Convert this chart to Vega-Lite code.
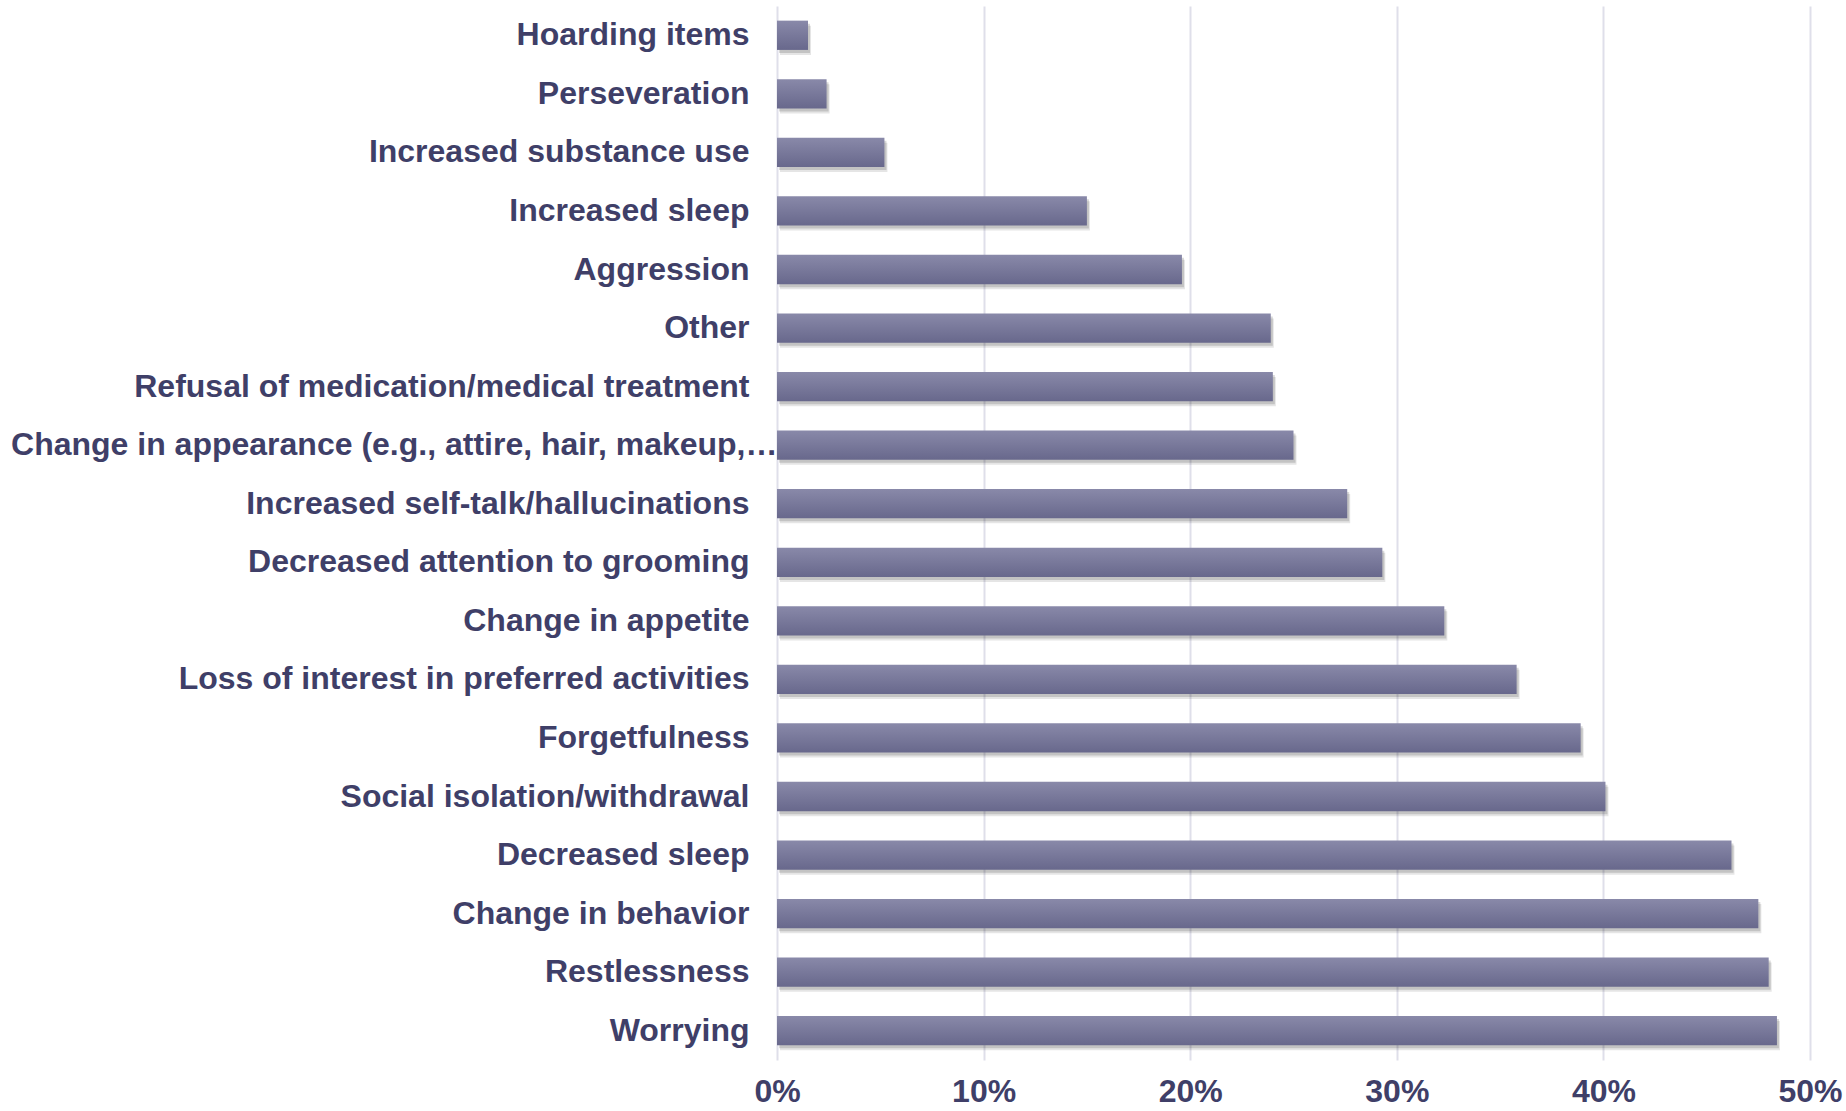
{
  "$schema": "https://vega.github.io/schema/vega-lite/v6.json",
  "width": 1033,
  "height": 1054,
  "autosize": {"type": "none"},
  "padding": {"left": 777, "top": 6, "right": 36, "bottom": 51},
  "background": "white",
  "config": {"view": {"stroke": null}},
  "data": {"values": [
    {"label": "Hoarding items", "pct": 0.015},
    {"label": "Perseveration", "pct": 0.024},
    {"label": "Increased substance use", "pct": 0.052},
    {"label": "Increased sleep", "pct": 0.150},
    {"label": "Aggression", "pct": 0.196},
    {"label": "Other", "pct": 0.239},
    {"label": "Refusal of medication/medical treatment", "pct": 0.240},
    {"label": "Change in appearance (e.g., attire, hair, makeup,…", "pct": 0.250},
    {"label": "Increased self-talk/hallucinations", "pct": 0.276},
    {"label": "Decreased attention to grooming", "pct": 0.293},
    {"label": "Change in appetite", "pct": 0.323},
    {"label": "Loss of interest in preferred activities", "pct": 0.358},
    {"label": "Forgetfulness", "pct": 0.389},
    {"label": "Social isolation/withdrawal", "pct": 0.401},
    {"label": "Decreased sleep", "pct": 0.462},
    {"label": "Change in behavior", "pct": 0.475},
    {"label": "Restlessness", "pct": 0.480},
    {"label": "Worrying", "pct": 0.484}
  ]},
  "encoding": {
    "y": {
      "field": "label", "type": "nominal", "sort": null,
      "scale": {"paddingInner": 0.5, "paddingOuter": 0.25},
      "axis": {
        "title": null, "domain": false, "ticks": false, "grid": false,
        "labelFont": "Liberation Sans", "labelFontSize": 32, "labelFontWeight": "bold",
        "labelColor": "#3f3f68", "labelLimit": 1000,
        "labelPadding": {"condition": {"test": "indexof(datum.value, 'appearance') >= 0", "value": 0}, "value": 28}
      }
    },
    "x": {
      "field": "pct", "type": "quantitative",
      "scale": {"domain": [0, 0.5], "nice": false},
      "axis": {
        "title": null, "format": ".0%", "values": [0, 0.1, 0.2, 0.3, 0.4, 0.5],
        "domain": false, "ticks": false, "grid": true,
        "gridColor": "#dfdfea", "gridWidth": 2,
        "labelFont": "Liberation Sans", "labelFontSize": 32, "labelFontWeight": "bold",
        "labelColor": "#3f3f68", "labelPadding": 16, "labelFlush": false
      }
    }
  },
  "layer": [
    {"mark": {"type": "bar", "color": "#000000", "opacity": 0.1, "xOffset": 3, "yOffset": 5}},
    {"mark": {"type": "bar", "color": "#000000", "opacity": 0.15, "xOffset": 2, "yOffset": 3}},
    {"mark": {"type": "bar", "color": {"gradient": "linear", "x1": 0, "y1": 0, "x2": 0, "y2": 1,
      "stops": [{"offset": 0, "color": "#8989a9"}, {"offset": 1, "color": "#68688c"}]}}}
  ]
}
